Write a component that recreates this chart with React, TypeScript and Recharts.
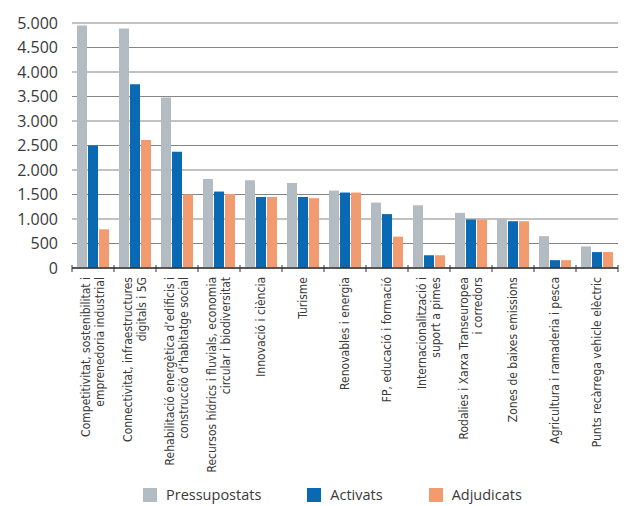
import { Bar, BarChart, CartesianGrid, Legend, XAxis, YAxis } from "recharts";

const categories: string[][] = [
    ["Competitivitat, sostenibilitat i", "emprenedoria industrial"],
    ["Connectivitat, infraestructures", "digitals i 5G"],
    ["Rehabilitació energètica d’edificis i", "construcció d’habitatge social"],
    ["Recursos hídrics i fluvials, economia", "circular i biodiversitat"],
    ["Innovació i ciència"],
    ["Turisme"],
    ["Renovables i energia"],
    ["FP, educació i formació"],
    ["Internacionalització i", "suport a pimes"],
    ["Rodalies i Xarxa Transeuropea", "i corredors"],
    ["Zones de baixes emissions"],
    ["Agricultura i ramaderia i pesca"],
    ["Punts recàrrega vehicle elèctric"]
];

const pressupostats = [4950, 4890, 3480, 1815, 1790, 1735, 1580, 1335, 1280, 1125, 1010, 650, 440];
const activats = [2500, 3750, 2370, 1560, 1450, 1450, 1540, 1100, 260, 990, 955, 160, 325];
const adjudicats = [790, 2610, 1500, 1510, 1450, 1425, 1540, 640, 260, 990, 955, 160, 325];

const yTicks = [0, 500, 1000, 1500, 2000, 2500, 3000, 3500, 4000, 4500, 5000];

const series = [
    { key: "pressupostats", name: "Pressupostats", color: "#b3bcc2" },
    { key: "activats", name: "Activats", color: "#0a69b3" },
    { key: "adjudicats", name: "Adjudicats", color: "#f29b70" }
];

const data = categories.map((lines, i) => ({
    name: lines.join(" "),
    pressupostats: pressupostats[i],
    activats: activats[i],
    adjudicats: adjudicats[i]
}));

const formatThousands = (v: number): string => v.toLocaleString("de-DE");

// amplada de cada categoria dins l'àrea del gràfic (546px / 13)
const BAND = 546 / categories.length;

const CategoryTick = (props: any) => {
    const { x, y, index } = props;
    const lines: string[] = categories[index] ?? [];
    const n = lines.length;
    return (
        <g>
            <line x1={x - BAND / 2} x2={x - BAND / 2} y1={y - 3} y2={y + 4} stroke="#333" strokeWidth={1} />
            {index === categories.length - 1 && (
                <line x1={x + BAND / 2} x2={x + BAND / 2} y1={y - 3} y2={y + 4} stroke="#333" strokeWidth={1} />
            )}
            <text
                transform={`translate(${x},${y + 9}) rotate(-90)`}
                textAnchor="end"
                fill="#3a3a3a"
                fontSize={12}
                fontFamily="'Liberation Sans Narrow', 'DejaVu Sans Condensed', Roboto, sans-serif"
            >
                {lines.map((line, i) => (
                    <tspan key={i} x={0} y={(i - (n - 1) / 2) * 14 + 4}>
                        {line}
                    </tspan>
                ))}
            </text>
        </g>
    );
};

const LegendContent = () => (
    <div
        style={{
            height: 36,
            display: "flex",
            alignItems: "flex-end",
            paddingLeft: 143,
            fontFamily: "'Open Sans', sans-serif",
            fontSize: 14.5,
            color: "#3a3a3a"
        }}
    >
        {series.map((s) => (
            <div key={s.key} style={{ display: "flex", alignItems: "center", marginRight: 46, marginBottom: 2 }}>
                <span style={{ display: "inline-block", width: 14, height: 14, background: s.color, marginRight: 9 }} />
                <span>{s.name}</span>
            </div>
        ))}
    </div>
);

export default function App() {
    return (
        <div style={{ position: "absolute", left: 0, top: 0, background: "#fff" }}>
            <BarChart
                width={627}
                height={506}
                data={data}
                margin={{ top: 23, right: 9, bottom: 0, left: 0 }}
                barSize={10}
                barGap={1}
            >
                <CartesianGrid vertical={false} stroke="#858585" strokeWidth={1} />
                <XAxis
                    dataKey="name"
                    interval={0}
                    height={202}
                    tick={<CategoryTick />}
                    tickLine={false}
                    tickSize={0}
                    tickMargin={0}
                    axisLine={{ stroke: "#333", strokeWidth: 1.5 }}
                />
                <YAxis
                    width={72}
                    domain={[0, 5000]}
                    ticks={yTicks}
                    tickFormatter={formatThousands}
                    tick={{ fill: "#3a3a3a", fontSize: 16, fontFamily: "'Open Sans', sans-serif" }}
                    tickLine={false}
                    tickSize={0}
                    tickMargin={14}
                    axisLine={false}
                />
                <Legend verticalAlign="bottom" content={<LegendContent />} wrapperStyle={{ left: 0, width: 627 }} />
                {series.map((s) => (
                    <Bar key={s.key} dataKey={s.key} name={s.name} fill={s.color} isAnimationActive={false} />
                ))}
            </BarChart>
        </div>
    );
}
